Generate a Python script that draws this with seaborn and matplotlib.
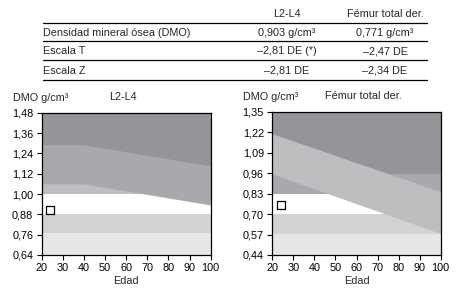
import matplotlib
matplotlib.use("Agg")
import matplotlib.pyplot as plt
import seaborn as sns
from matplotlib.lines import Line2D

# Table values
col_headers = ["L2-L4", "Fémur total der."]
row_labels = ["Densidad mineral ósea (DMO)", "Escala T", "Escala Z"]
l2l4_vals = ["0,903 g/cm³", "–2,81 DE (*)", "–2,81 DE"]
femur_vals = ["0,771 g/cm³", "–2,47 DE", "–2,34 DE"]

# L2-L4 reference chart
l2l4_ages = [20, 40, 100]
l2l4_upper = [1.29, 1.29, 1.165]
l2l4_lower = [1.06, 1.06, 0.935]
l2l4_zones = [0.64, 0.767, 0.882, 1.00, 1.48]
l2l4_ticks = [0.64, 0.76, 0.88, 1.00, 1.12, 1.24, 1.36, 1.48]
l2l4_age_pt = [24]
l2l4_bmd_pt = [0.903]

# Femur reference chart
femur_ages = [20, 100]
femur_upper = [1.21, 0.842]
femur_lower = [0.955, 0.576]
femur_zones = [0.44, 0.573, 0.70, 0.827, 0.955, 1.35]
femur_ticks = [0.44, 0.57, 0.70, 0.83, 0.96, 1.09, 1.22, 1.35]
femur_age_pt = [24]
femur_bmd_pt = [0.758]

age_ticks = [20, 30, 40, 50, 60, 70, 80, 90, 100]

sns.set_theme(style="ticks")
plt.rcParams['font.family'] = ['Liberation Sans', 'DejaVu Sans']
FS = 7.8

W, H = 461, 291
fig = plt.figure(figsize=(W / 100, H / 100), dpi=100)


def px(x, y):
    return x / W, 1 - y / H


# table
x0, x1 = 42.7, 427
for ly in [23.3, 41.3, 60.3, 80]:
    fig.add_artist(Line2D([x0 / W, x1 / W], [1 - ly / H] * 2, color='black', lw=0.9))
col_x = [287, 385]
for cx, head in zip(col_x, col_headers):
    fig.text(*px(cx, 14), head, ha='center', va='center', fontsize=FS)
row_y = [33.5, 51.5, 70.5]
for ry, lab, a, b in zip(row_y, row_labels, l2l4_vals, femur_vals):
    fig.text(*px(43, ry), lab, ha='left', va='center', fontsize=FS)
    fig.text(*px(col_x[0], ry), a, ha='center', va='center', fontsize=FS)
    fig.text(*px(col_x[1], ry), b, ha='center', va='center', fontsize=FS)


def draw_chart(rect, ages, upper, lower, zones, zone_colors, band_color,
               above_color, ticks, age_pt, bmd_pt, title, title_x):
    ax = fig.add_axes(rect)
    ymin, ymax = zones[0], zones[-1]
    for lo, hi, c in zip(zones[:-1], zones[1:], zone_colors):
        ax.axhspan(lo, hi, color=c, lw=0)
    ax.fill_between(ages, lower, upper, color=band_color, lw=0)
    if above_color is not None:
        ax.fill_between(ages, upper, ymax, color=above_color, lw=0)
    sns.scatterplot(x=age_pt, y=bmd_pt, marker='s', s=38, facecolor='white',
                    edgecolor='black', linewidth=0.9, ax=ax, zorder=5)
    ax.set_xlim(20, 100)
    ax.set_ylim(ymin, ymax)
    ax.set_xticks(age_ticks)
    ax.set_xticklabels([str(a) for a in age_ticks], fontsize=FS)
    ax.set_yticks(ticks)
    ax.set_yticklabels([f"{t:.2f}".replace('.', ',') for t in ticks], fontsize=FS)
    ax.tick_params(direction='out', length=3.6, width=0.8, pad=2.5, colors='black')
    for s in ax.spines.values():
        s.set_visible(True)
        s.set_linewidth(0.9)
        s.set_color('black')
    ax.set_xlabel("Edad", fontsize=FS, labelpad=2)
    ax.set_ylabel("")
    ax.text(-0.172, 1.105, "DMO g/cm³", transform=ax.transAxes, ha='left',
            va='center', fontsize=FS)
    ax.text(title_x, 1.11, title, transform=ax.transAxes, ha='center',
            va='center', fontsize=FS)
    return ax


draw_chart([41.7 / W, 36 / H, 169 / W, 142.3 / H], l2l4_ages, l2l4_upper, l2l4_lower,
           l2l4_zones, ["#e6e7e8", "#d1d3d4", "white", "#bcbec0"], "#a7a9ac",
           "#939598", l2l4_ticks, l2l4_age_pt, l2l4_bmd_pt, "L2-L4", 0.48)

draw_chart([272.3 / W, 36 / H, 168.4 / W, 143.3 / H], femur_ages, femur_upper, femur_lower,
           femur_zones, ["#e6e7e8", "#d1d3d4", "white", "#a7a9ac", "#939598"], "#bcbec0",
           None, femur_ticks, femur_age_pt, femur_bmd_pt, "Fémur total der.", 0.54)

fig.savefig("out.png", dpi=100)
